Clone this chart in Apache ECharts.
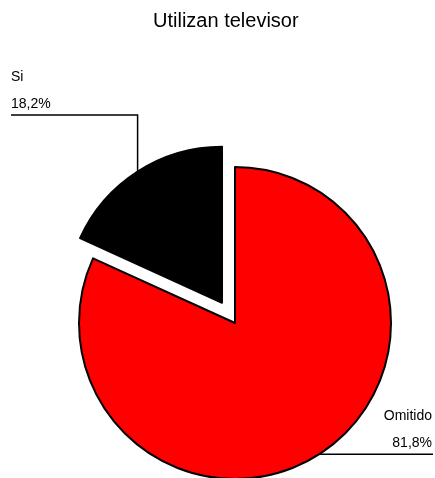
<!DOCTYPE html>
<html>
<head>
<meta charset="utf-8">
<script src="https://cdn.jsdelivr.net/npm/echarts@6/dist/echarts.min.js"></script>
<style>
html,body{margin:0;padding:0;background:#fff;}
#chart{width:435px;height:478px;}
</style>
</head>
<body>
<div id="chart"></div>
<script>
var titleText = 'Utilizan televisor';
var categories = ['Omitido', 'Si'];
var values = [81.8, 18.2];
var colors = ['#ff0000', '#000000'];
var explodedIndex = 1;

function fmtPct(v) { return v.toFixed(1).replace('.', ',') + '%'; }

var baseCenter = [235, 323];
var radius = 156;
var explode = 24;

// mid angle of the exploded slice (clockwise from 12 o'clock)
var total = values.reduce(function (a, b) { return a + b; }, 0);
var before = 0;
for (var k = 0; k < explodedIndex; k++) before += values[k];
var mid = (before + values[explodedIndex] / 2) / total * 2 * Math.PI;
var explodedCenter = [baseCenter[0] + Math.sin(mid) * explode, baseCenter[1] - Math.cos(mid) * explode];

var font = 'Liberation Sans, Arial, sans-serif';

function makeData(showIndexFn) {
  return categories.map(function (c, i) {
    var vis = showIndexFn(i);
    return {
      name: c, value: values[i],
      itemStyle: vis ? { color: colors[i], borderColor: '#000', borderWidth: 2 } : { color: 'rgba(0,0,0,0)', borderWidth: 0 },
      label: { show: vis },
      labelLine: { show: vis }
    };
  });
}

function layoutFn(params) {
  var pts = params.labelLinePoints;
  if (!pts || !pts[0]) return {};
  var p0 = pts[0];
  if (params.dataIndex === explodedIndex) {
    return {
      x: 11, y: 118, align: 'left', verticalAlign: 'bottom',
      labelLinePoints: [p0, [p0[0], 115], [11, 115]]
    };
  }
  return {
    x: 432, y: 457, align: 'right', verticalAlign: 'bottom',
    labelLinePoints: [p0, p0, [433, p0[1]]]
  };
}

var common = {
  type: 'pie',
  radius: radius,
  startAngle: 90,
  clockwise: true,
  avoidLabelOverlap: false,
  silent: true,
  emphasis: { disabled: true },
  label: {
    position: 'outside',
    formatter: function (p) { return p.name + '\n' + fmtPct(p.value); },
    fontFamily: font,
    fontSize: 14,
    color: '#000',
    lineHeight: 27
  },
  labelLine: { length: 10, length2: 10, lineStyle: { color: '#000', width: 1.5 } },
  labelLayout: layoutFn
};

var chart = echarts.init(document.getElementById('chart'));
chart.setOption({
  animation: false,
  title: {
    text: titleText,
    left: 148, top: 6,
    textStyle: { fontFamily: font, fontSize: 20, fontWeight: 'normal', color: '#000' }
  },
  series: [
    Object.assign({}, common, { center: baseCenter, data: makeData(function (i) { return i !== explodedIndex; }) }),
    Object.assign({}, common, { center: explodedCenter, data: makeData(function (i) { return i === explodedIndex; }) })
  ]
});
</script>
</body>
</html>
